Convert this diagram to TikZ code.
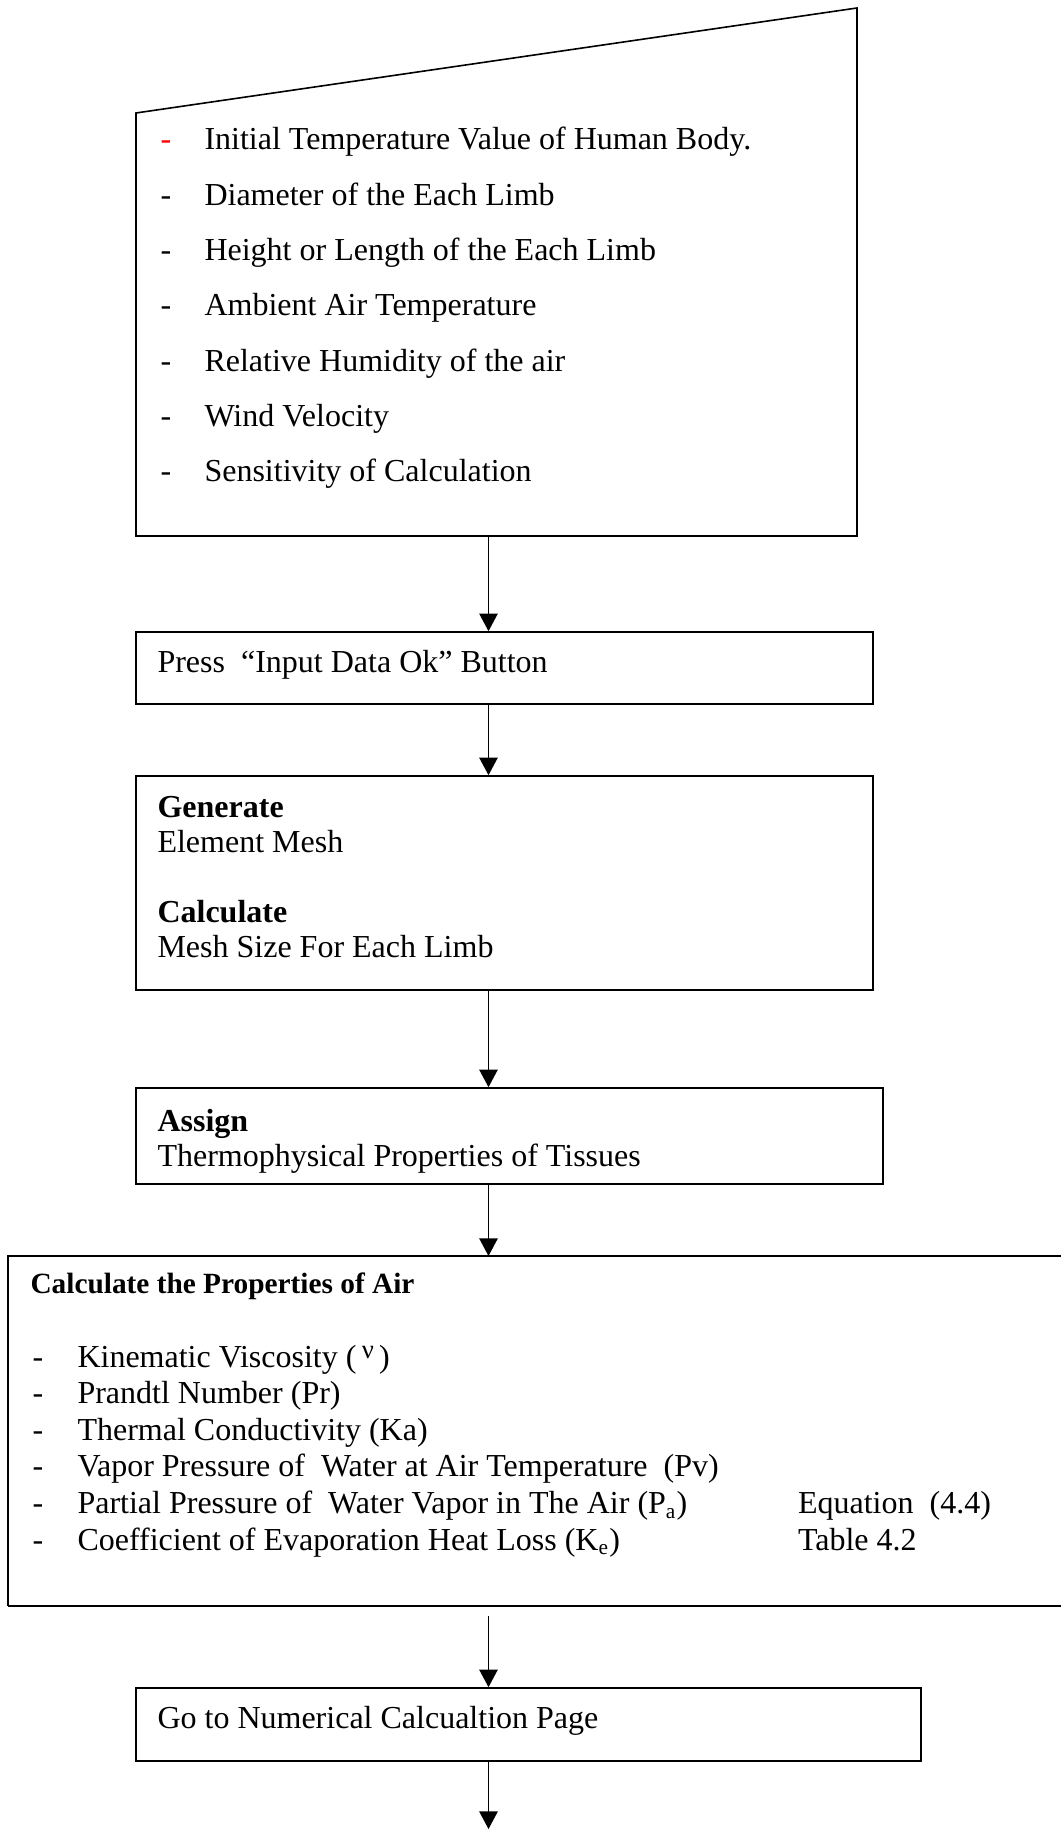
\documentclass[tikz,border=0pt]{standalone}
\usepackage{fontspec}
\setmainfont{Liberation Serif}
\usetikzlibrary{arrows.meta,fit}
\begin{document}
\begin{tikzpicture}[x=0.375pt,y=-0.375pt,
  box/.style={draw, line width=0.6pt, inner sep=0pt},
  txt/.style={anchor=base west, inner sep=0pt, font=\fontsize{12}{14}\selectfont},
  hd/.style={anchor=base west, inner sep=0pt, font=\fontsize{12}{14}\selectfont\bfseries},
  hdsmall/.style={anchor=base west, inner sep=0pt, font=\fontsize{11}{13}\selectfont\bfseries},
  arr/.style={line width=0.5pt, -{Triangle[length=6.6pt,width=6.9pt]}}]
\useasboundingbox (0,0) rectangle (1061,1829);
\coordinate (axis) at (488.5,0);

% manual input shape
\coordinate (m1) at (136,113);
\coordinate (m2) at (857,8);
\coordinate (m3) at (857,536);
\coordinate (m4) at (136,536);
\draw[line width=0.6pt] (m1) -- (m2) -- (m3) -- (m4) -- cycle;
\node[txt, text=red] (d1) at (160,150) {-};
\node[txt] (t1) at (204,150) {Initial Temperature Value of Human Body.};
\node[txt] (d2) at (160,206) {-};
\node[txt] (t2) at (204,206) {Diameter of the Each Limb};
\node[txt] (d3) at (160,261) {-};
\node[txt] (t3) at (204,261) {Height or Length of the Each Limb};
\node[txt] (d4) at (160,316) {-};
\node[txt] (t4) at (204,316) {Ambient Air Temperature};
\node[txt] (d5) at (160,372) {-};
\node[txt] (t5) at (204,372) {Relative Humidity of the air};
\node[txt] (d6) at (160,427) {-};
\node[txt] (t6) at (204,427) {Wind Velocity};
\node[txt] (d7) at (160,482) {-};
\node[txt] (t7) at (204,482) {Sensitivity of Calculation};

% box 2
\node[box, fit={(136,632) (873,704)}] (b2) {};
\node[txt] (t8) at (157,672) {Press\ \ “Input Data Ok” Button};

% box 3
\node[box, fit={(136,776) (873,990)}] (b3) {};
\node[hd] (t9) at (157,817) {Generate};
\node[txt] (t10) at (157,852) {Element Mesh};
\node[hd] (t11) at (157,922) {Calculate};
\node[txt] (t12) at (157,957) {Mesh Size For Each Limb};

% box 4
\node[box, fit={(136,1088) (883,1184)}] (b4) {};
\node[hd] (t13) at (157,1131) {Assign};
\node[txt] (t14) at (157,1166) {Thermophysical Properties of Tissues};

% box 5 (runs past the right edge)
\coordinate (b5n) at (488.5,1256);
\coordinate (b5s) at (488.5,1616);
\draw[line width=0.6pt] (1061,1256) -- (8,1256) -- (8,1606);
\draw[line width=0.8pt] (8,1606) -- (1061,1606);
\node[hdsmall] (t15) at (30,1293) {Calculate the Properties of Air};
\node[txt] (d16) at (32,1367) {-};
\node[txt] (t16) at (77,1367) {Kinematic Viscosity (\,\raisebox{0.6ex}{\fontsize{10}{10}\selectfont ν}\,)};
\node[txt] (d17) at (32,1403.6) {-};
\node[txt] (t17) at (77,1403.6) {Prandtl Number (Pr)};
\node[txt] (d18) at (32,1440.2) {-};
\node[txt] (t18) at (77,1440.2) {Thermal Conductivity (Ka)};
\node[txt] (d19) at (32,1476.8) {-};
\node[txt] (t19) at (77,1476.8) {Vapor Pressure of\ \ Water at Air Temperature\ \ (Pv)};
\node[txt] (d20) at (32,1513.4) {-};
\node[txt] (t20) at (77,1513.4) {Partial Pressure of\ \ Water Vapor in The Air (P\textsubscript{a})};
\node[txt] (e20) at (797.5,1513.4) {Equation\ \ (4.4)};
\node[txt] (d21) at (32,1550) {-};
\node[txt] (t21) at (77,1550) {Coefficient of Evaporation Heat Loss (K\textsubscript{e})};
\node[txt] (e21) at (797.5,1550) {Table 4.2};

% box 6
\node[box, fit={(136,1688) (921,1761)}] (b6) {};
\node[txt] (t22) at (157,1728) {Go to Numerical Calcualtion Page};
\coordinate (end) at (488.5,1829);

% connectors
\draw[arr] (m4 -| axis) -- (b2.north -| axis);
\draw[arr] (b2.south -| axis) -- (b3.north -| axis);
\draw[arr] (b3.south -| axis) -- (b4.north -| axis);
\draw[arr] (b4.south -| axis) -- (b5n);
\draw[arr] (b5s) -- (b6.north -| axis);
\draw[arr] (b6.south -| axis) -- (end);
\end{tikzpicture}
\end{document}
